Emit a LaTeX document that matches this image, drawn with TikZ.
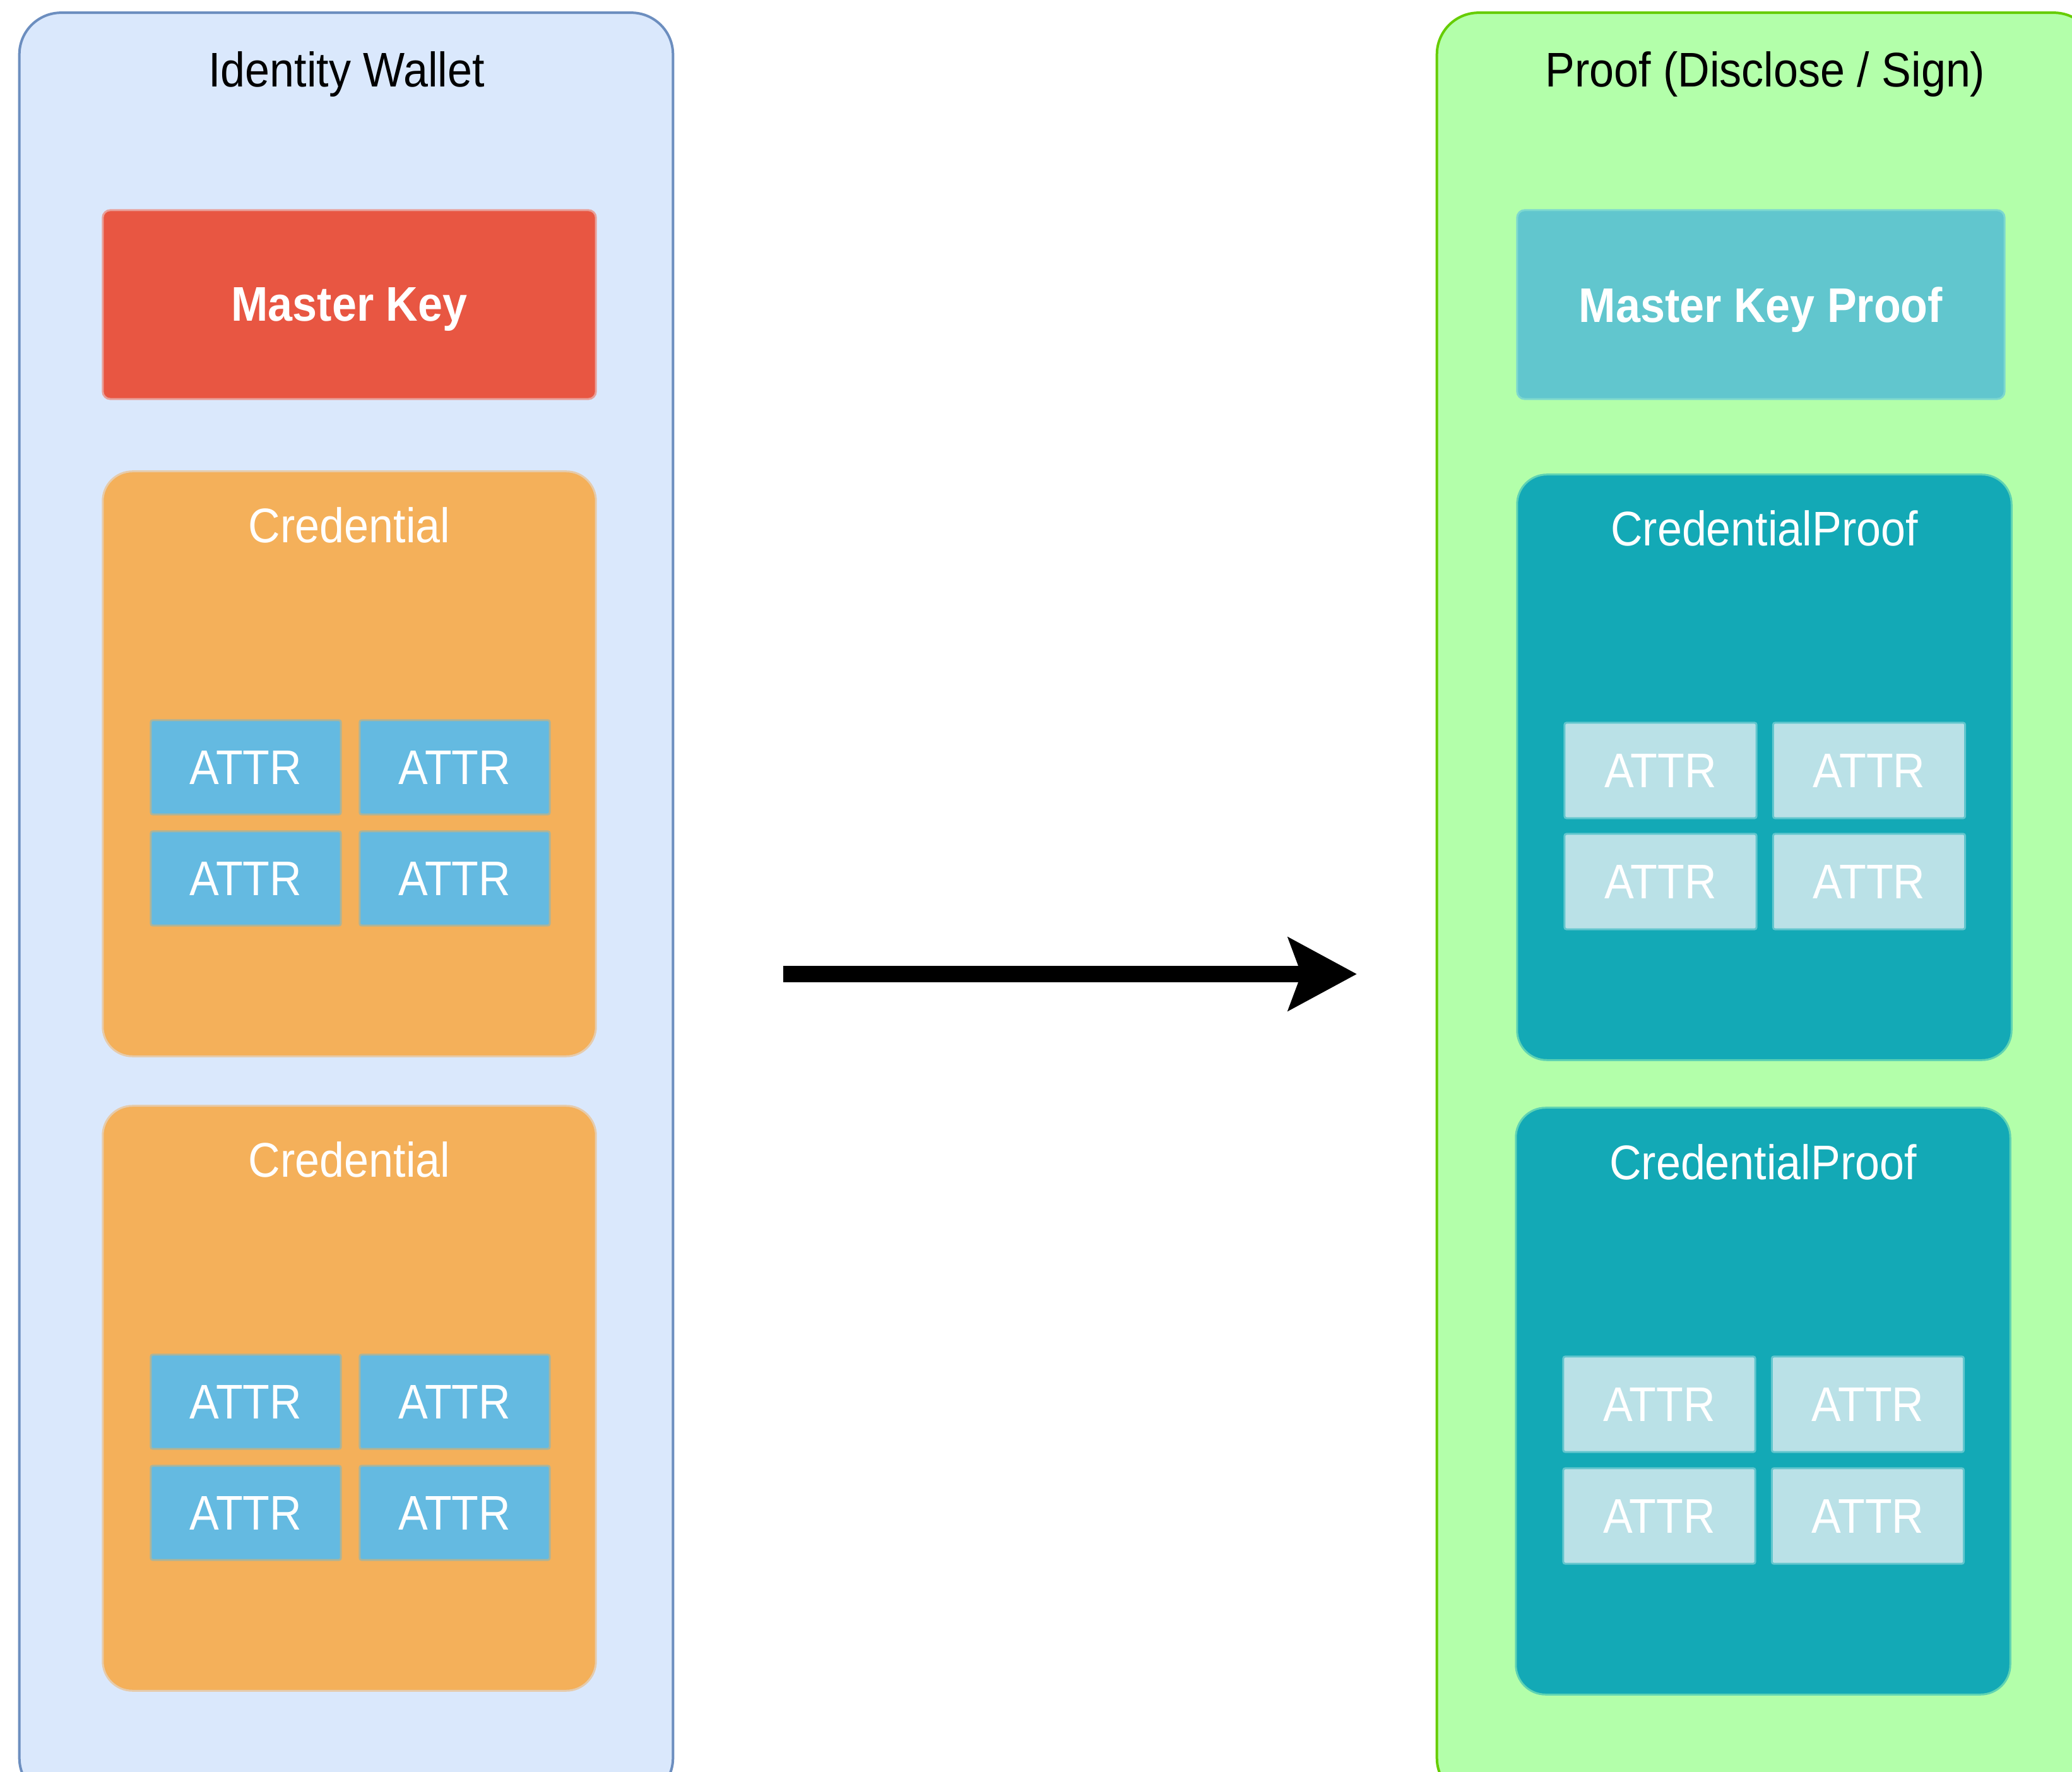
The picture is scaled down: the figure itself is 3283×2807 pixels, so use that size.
\documentclass[tikz,border=0pt]{standalone}
\usepackage{fontspec}
\setmainfont{Liberation Sans}
\usetikzlibrary{arrows.meta}
\definecolor{walletfill}{HTML}{DAE8FC}
\definecolor{walletline}{HTML}{6C8EBF}
\definecolor{prooffill}{HTML}{B3FFAA}
\definecolor{proofline}{HTML}{66CC00}
\definecolor{mkfill}{HTML}{E85642}
\definecolor{mkline}{HTML}{E8A09A}
\definecolor{credfill}{HTML}{F4B05A}
\definecolor{credline}{HTML}{E6CBAB}
\definecolor{attrfill}{HTML}{64BAE1}
\definecolor{attrline}{HTML}{ACB49A}
\definecolor{mkpfill}{HTML}{61C6CE}
\definecolor{mkpline}{HTML}{7DD8CF}
\definecolor{cpfill}{HTML}{13A9B6}
\definecolor{cpline}{HTML}{5FD3B3}
\definecolor{attrpfill}{HTML}{BAE1E7}
\definecolor{attrpline}{HTML}{62C6CE}
\newcommand{\tallt}[1]{\scalebox{1}[1.1]{#1}}
\begin{document}
\begin{tikzpicture}[x=0.01cm,y=-0.01cm,
  txt/.style={font=\fontsize{19.92pt}{24pt}\selectfont},
  box/.style={inner sep=0pt,outer sep=0pt,txt},
  container/.style={box,rounded corners=0.66cm,line width=0.04cm},
  wallet/.style={container,fill=walletfill,draw=walletline},
  proofc/.style={container,fill=prooffill,draw=proofline},
  title/.style={txt,anchor=base,inner sep=0pt,text=black},
  wtitle/.style={txt,anchor=base,inner sep=0pt,text=white},
  mkey/.style={box,rounded corners=0.12cm,line width=0.03cm,fill=mkfill,draw=mkline,
    text=white,font=\fontsize{19.92pt}{24pt}\selectfont\bfseries,text depth=0pt},
  mkproof/.style={mkey,fill=mkpfill,draw=mkpline},
  cred/.style={box,rounded corners=0.47cm,line width=0.03cm,fill=credfill,draw=credline},
  credp/.style={cred,fill=cpfill,draw=cpline},
  attr/.style={box,rounded corners=0.03cm,line width=0.03cm,fill=attrfill,draw=attrline,
    text=white,minimum width=3.01cm,minimum height=1.49cm},
  attrp/.style={attr,fill=attrpfill,draw=attrpline,minimum width=3.04cm,minimum height=1.51cm},
  bigarrow/.style={line width=0.25cm,-{Stealth[length=1.08cm,width=1.14cm,inset=0.2cm]}}
]
\useasboundingbox (0,0) rectangle (3283,2807);
\clip (0,0) rectangle (3283,2807);

% ---------- Identity Wallet ----------
\node[wallet,minimum width=10.35cm,minimum height=28.29cm] (wallet) at (548.5,1435.5) {};
\node[title] (walletT) at (549,138) {\tallt{Identity Wallet}};
\node[mkey,minimum width=7.81cm,minimum height=2.99cm] (mk) at (553.5,482.5) {\tallt{Master Key}};

\node[cred,minimum width=7.81cm,minimum height=9.26cm] (cred1) at (553.5,1210) {};
\node[wtitle] (cred1T) at (553.5,860) {\tallt{Credential}};
\node[attr] (c1a) at (389.5,1215.5) {\tallt{ATTR}};
\node[attr] (c1b) at (720.5,1215.5) {\tallt{ATTR}};
\node[attr] (c1c) at (389.5,1391.5) {\tallt{ATTR}};
\node[attr] (c1d) at (720.5,1391.5) {\tallt{ATTR}};

\node[cred,minimum width=7.81cm,minimum height=9.26cm] (cred2) at (553.5,2215) {};
\node[wtitle] (cred2T) at (553.5,1864) {\tallt{Credential}};
\node[attr] (c2a) at (389.5,2220.5) {\tallt{ATTR}};
\node[attr] (c2b) at (720.5,2220.5) {\tallt{ATTR}};
\node[attr] (c2c) at (389.5,2396.5) {\tallt{ATTR}};
\node[attr] (c2d) at (720.5,2396.5) {\tallt{ATTR}};

% ---------- Proof ----------
\node[proofc,minimum width=10.43cm,minimum height=28.29cm] (proof) at (2798.5,1435.5) {};
\node[title] (proofT) at (2797,138) {\tallt{Proof (Disclose / Sign)}};
\node[mkproof,minimum width=7.72cm,minimum height=2.99cm] (mkp) at (2790,482.5) {\tallt{Master Key Proof}};

\node[credp,minimum width=7.83cm,minimum height=9.27cm] (cp1) at (2795.5,1215.5) {};
\node[wtitle] (cp1T) at (2795.5,865) {\tallt{CredentialProof}};
\node[attrp] (p1a) at (2631,1220.5) {\tallt{ATTR}};
\node[attrp] (p1b) at (2961.5,1220.5) {\tallt{ATTR}};
\node[attrp] (p1c) at (2631,1396.5) {\tallt{ATTR}};
\node[attrp] (p1d) at (2961.5,1396.5) {\tallt{ATTR}};

\node[credp,minimum width=7.83cm,minimum height=9.29cm] (cp2) at (2793.5,2219.5) {};
\node[wtitle] (cp2T) at (2793.5,1868) {\tallt{CredentialProof}};
\node[attrp] (p2a) at (2629,2224.5) {\tallt{ATTR}};
\node[attrp] (p2b) at (2959.5,2224.5) {\tallt{ATTR}};
\node[attrp] (p2c) at (2629,2401.5) {\tallt{ATTR}};
\node[attrp] (p2d) at (2959.5,2401.5) {\tallt{ATTR}};

% ---------- Arrow ----------
\coordinate (arrS) at (1241,1543);
\coordinate (arrE) at (2150,1543);
\draw[bigarrow] (arrS) -- (arrE);
\end{tikzpicture}
\end{document}
